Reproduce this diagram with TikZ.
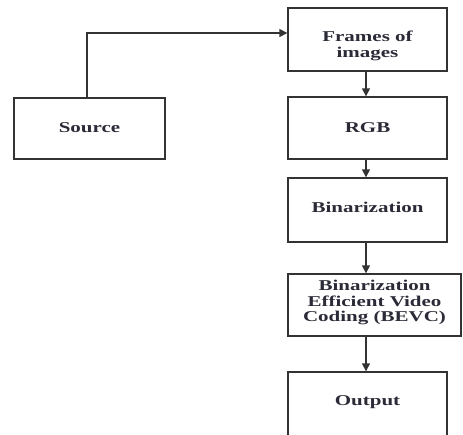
\documentclass[tikz,border=0pt]{standalone}
\usepackage{fontspec}
\newfontfamily\lblfont[FakeStretch=1.4]{Liberation Serif}
\usetikzlibrary{arrows.meta}
\definecolor{txt}{HTML}{2B2B38}
\definecolor{ln}{HTML}{333333}
\newcommand\placetext[2]{\raisebox{#1}[0pt][0pt]{\begin{tabular}[b]{@{}c@{}}#2\end{tabular}}}
\tikzset{
  box/.style={draw=ln, line width=1.4pt, rectangle, inner sep=0pt, align=center,
    text=txt, font=\lblfont\bfseries\fontsize{15}{15.4}\selectfont},
  arr/.style={draw=ln, line width=1.4pt, -{Triangle[length=8pt,width=8pt]}}
}
\begin{document}
\begin{tikzpicture}[x=1pt,y=-1pt]
\useasboundingbox (0,0) rectangle (463,434);
\clip (0,0) rectangle (463,434);
\node[box, minimum width=159pt, minimum height=63pt] (frames) at (367.5,39.5) {\placetext{-17.8pt}{Frames of\\images}};
\node[box, minimum width=159pt, minimum height=62pt] (rgb) at (367.5,128) {\placetext{-4pt}{RGB}};
\node[box, minimum width=151pt, minimum height=61pt] (src) at (89.5,128.5) {\placetext{-3.5pt}{Source}};
\node[box, minimum width=159pt, minimum height=64pt] (bin) at (367.5,210) {\placetext{-2pt}{Binarization}};
\node[box, minimum width=173pt, minimum height=62pt] (bevc) at (374.5,305) {\placetext{-16.7pt}{Binarization\\Efficient Video\\Coding (BEVC)}};
\node[box, minimum width=159pt, minimum height=64pt] (out) at (367.5,404) {\placetext{-1pt}{Output}};
\coordinate (c) at (87,33);
\coordinate (ax) at (366,0);
\draw[arr] (src.north -| c) |- (frames.west |- c);
\draw[arr] (frames.south -| ax) -- (rgb.north -| ax);
\draw[arr] (rgb.south -| ax) -- (bin.north -| ax);
\draw[arr] (bin.south -| ax) -- (bevc.north -| ax);
\draw[arr] (bevc.south -| ax) -- (out.north -| ax);
\end{tikzpicture}
\end{document}
